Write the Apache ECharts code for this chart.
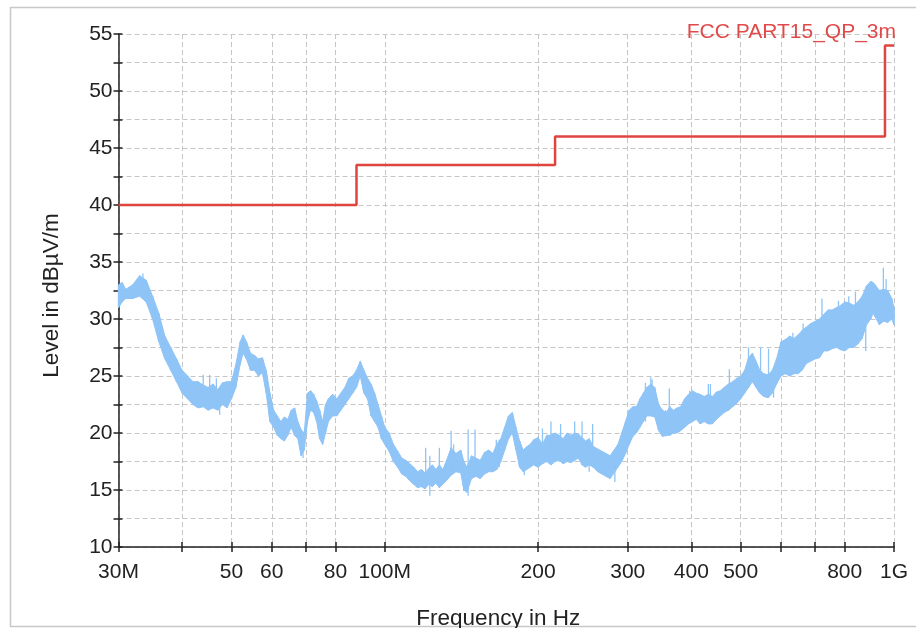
<!DOCTYPE html>
<html><head><meta charset="utf-8">
<script src="https://cdn.jsdelivr.net/npm/echarts@6/dist/echarts.min.js"></script>
<style>html,body{margin:0;padding:0;background:#fff}#c{width:916px;height:628px}</style>
</head><body><div id="c"></div>
<script>
// Measured trace: frequency (MHz) with low / high envelope of the noisy level (dBµV/m)
const freqMHz = [30,30.5,31,32,33,34,35,36,37,38,39,40,41,42,43,44,45,46,47,48,49,50,51,52,52.7,53.5,54.5,55.5,56.5,57.5,58.5,59.5,60.5,61.5,62.5,63.5,64.5,65.5,66.5,67.5,68.5,69.5,70.5,71.5,72.5,73.5,74.5,75.5,76.5,77.5,79,80.5,82,83.5,85,86.5,88,89.5,91,92.5,94,95.5,97,98.5,100,102,104,106,108,110,112,114,116,118,120,122,124,126,128,130,132,135,138,141,143,145,148,151,154,157,160,163,166,169,172,175,178,181,184,187,190,193,196,200,204,208,212,216,220,224,228,232,236,240,244,248,252,257,262,267,272,277,282,287,292,297,302,307,312,317,322,327,333,339,345,351,357,363,369,375,381,388,395,402,409,416,424,432,440,448,456,464,473,482,491,500,509,518,527,536,545,555,566,577,588,600,612,624,636,648,660,673,686,700,714,728,742,756,771,786,801,817,833,849,866,883,900,910,918,936,954,972,990,1000];
const levelLow = [31,31.5,31.8,31.8,32,31.5,30,28,26.5,25.5,24.5,23.5,23,22.5,22.2,22.3,22,22.2,22,22.5,22.2,23,24,26,27,26.5,25.5,25.5,25,25.3,23.5,21,20.5,19.8,19.5,19.3,19.8,20.5,19.8,19.5,18,18.5,21,22,21.8,21,19.5,19,20,21,21.5,21.5,22,22.5,23,23.5,24,25,23.5,23,21.5,21,20.5,19.5,19,18.4,17.5,17,16.4,16.2,15.8,15.5,15.2,15.3,15.1,15.5,15.3,15.6,15.2,15.5,15.8,16.3,16.6,16.5,15,14.8,16,16.2,16,16.4,16.6,16.6,16.8,17.5,18.5,19.5,20,18.5,17,16.6,16.8,17,17.2,17,17.3,17.5,17.2,17.5,17.6,17.3,17.5,17.4,17.6,17.8,17.2,17,17.2,17,16.6,16.4,16.2,16,16.5,17,17.5,18.2,19,19.7,20,20.5,21,21.5,21.5,21.4,20.2,19.7,19.8,19.8,20,20,20.2,20.5,20.8,21,21.2,20.8,21,20.8,20.8,21.2,21.5,21.8,22,22.3,22.6,23,23.5,24,24.5,24,23.5,23.2,23.1,23.5,24.3,25,25.2,25,25.2,25.2,25.5,26.1,26.3,26.5,26.6,27.2,27.2,27.4,27.5,27.3,27.2,27.5,27.5,27.8,28.3,29.5,30,30.5,30.2,29.5,29.8,29.7,30,29.5];
const levelHigh = [33,33.2,32.6,33,33.8,33.4,32,30.5,28.5,27.5,26.5,25.5,25,24.5,24.5,24.2,24,24.3,23.8,24.4,24.5,24.5,26,28,28.6,28,27,26.8,26.5,26.6,25.5,23.5,22,21.5,21,21.4,21.2,22,22.2,21,20.3,20,23.5,23.7,23.4,22.8,22,21,22.5,23,23.4,23,23.5,24,24.8,25,25.5,26.3,25.5,24.8,24.3,23.5,22.5,21.5,20.5,20,19,18.4,17.8,17.6,17.3,17,16.6,16.8,16.5,16.9,17.2,16.8,17.2,16.8,17.5,18.7,18.2,18.5,17.5,17,18,17.8,17.6,18.3,18.5,18.2,19,19.5,20.5,21.5,21.8,20.5,19.3,18.5,18.8,19,19.4,19.6,19,19.8,19.8,20,19.8,19.5,20,19.8,20,19.9,19.6,19.3,19.5,18.8,18.6,18.4,18.2,18,18.5,19,20,21,22,22.3,22.3,23,23.5,24,24.3,24,22.5,22,21.8,22.3,22,22.2,22.3,23,23.4,23.7,23.5,23.4,23.2,23.4,23.2,23.6,23.7,24,24.3,24.5,24.8,25,25.5,26.6,27,26.3,25.5,25.2,25.1,25.5,26.5,28,28.2,28.5,28.3,28.6,29,29.3,29.6,29.8,30,30.4,30.8,30.8,31,31.2,31.5,31.4,31.2,31.5,32,32.9,33.3,33.2,33,32.5,32.6,32.5,31.8,31];
// Isolated narrow spikes: frequency (MHz), foot and tip level (dBµV/m)
const spikeFreqMHz = [33.5,44,45.3,46.7,47.4,69.1,120.3,122.6,128,135,136.5,145.8,150.4,165.6,167.8,188,204,212,221.5,236,244,252,256,283,325,333,335,356,362,397,432,436,475,518,547,567,580,633,663,722,778,815,840,880,953,965];
const spikeFoot   = [32.5,23,23,22.5,21.6,17.8,16,14.5,15.5,16.5,16.5,14.5,16.5,17,17,16.3,17.5,17.5,17.8,17.8,17.5,16.6,17,15.7,21,21.5,21.5,19.7,20,21,21,21,22,24,23.5,23.1,23.1,25.2,26,27,27.5,27.5,27.8,27.2,30,30];
const spikeTip    = [34,25.1,25.1,24.8,23.5,20,18.7,18,18.7,20.2,19,20.3,20.3,19.4,19.4,18.5,20.4,21,20.8,21,21,19.5,20.8,18,24.4,24.9,24.7,22,23.9,23.7,24.3,24.3,25.6,27.5,27.5,27.4,25,28.8,29.6,31.8,31.6,32,32.4,31.8,34.5,33.5];
// Limit line
const limitName = 'FCC PART15_QP_3m';
const limitFreqMHz = [30, 88, 216, 960, 1000];
const limitLevel = [40, 43.5, 46, 54, 54];
// Axis ticks
const xTickFreqs = [30,40,50,60,70,80,100,200,300,400,500,600,700,800,1000];
const xLabelFreqs = [30,50,60,80,100,200,300,400,500,800,1000];
const xLabelTexts = ['30M','50','60','80','100M','200','300','400','500','800','1G'];
const yMin = 10, yMax = 55, yStep = 2.5, yLabelStep = 5;
const xName = 'Frequency in Hz', yName = 'Level in dBµV/m';

const lg = Math.log10;
const traceData = [];
freqMHz.forEach((f, i) => { traceData.push([lg(f), levelLow[i]]); traceData.push([lg(f), levelHigh[i]]); });
const bandData = freqMHz.map((f, i) => [lg(f), levelLow[i], levelHigh[i]]);
const spikeData = spikeFreqMHz.map((f, i) => [lg(f), spikeFoot[i], spikeTip[i]]);
const limitData = limitFreqMHz.map((f, i) => [lg(f), limitLevel[i]]);
const labelMap = {};
xLabelFreqs.forEach((f, i) => { labelMap[f] = xLabelTexts[i]; });

const FONT = '"Liberation Sans", Arial, sans-serif';
const AX = '#222';
const GRIDC = '#c6c6c6';
const BLUE = '#8fc4f7';
const xMinL = lg(xTickFreqs[0]), xMaxL = lg(xTickFreqs[xTickFreqs.length - 1]);

function renderBand(params, api) {
  if (params.dataIndex !== 0) return null;
  const pts = [];
  for (let i = 0; i < bandData.length; i++) pts.push(api.coord([bandData[i][0], bandData[i][1]]));
  for (let i = bandData.length - 1; i >= 0; i--) pts.push(api.coord([bandData[i][0], bandData[i][2]]));
  return {type: 'polygon', shape: {points: pts}, style: {fill: BLUE, stroke: BLUE, lineWidth: 1}, silent: true};
}
function renderSpike(params, api) {
  const a = api.coord([api.value(0), api.value(1)]);
  const b = api.coord([api.value(0), api.value(2)]);
  return {type: 'line', shape: {x1: a[0], y1: a[1], x2: b[0], y2: b[1]}, style: {stroke: BLUE, lineWidth: 1.3}, silent: true};
}

const chart = echarts.init(document.getElementById('c'), null, {renderer: 'canvas'});
chart.setOption({
  animation: false,
  backgroundColor: '#fff',
  grid: {left: 118.5, right: 22, top: 34, bottom: 81, containLabel: false, outerBoundsMode: 'none'},
  xAxis: [{
    type: 'value', min: xMinL, max: xMaxL,
    axisLine: {onZero: false, lineStyle: {color: AX, width: 1.5}},
    axisTick: {customValues: xTickFreqs.map(lg), length: 5, lineStyle: {color: AX, width: 1.5}},
    axisLabel: {customValues: xLabelFreqs.map(lg), formatter: v => labelMap[Math.round(Math.pow(10, v))] || '',
      fontSize: 21, color: AX, margin: 15, fontFamily: FONT},
    splitLine: {show: true, lineStyle: {type: [5, 3], color: GRIDC, width: 1}},
    name: xName, nameLocation: 'middle', nameGap: 60,
    nameTextStyle: {fontSize: 22.5, color: AX, fontFamily: FONT, padding: [0, 16, 0, 0]}
  }, {
    type: 'value', min: xMinL, max: xMaxL, position: 'bottom',
    axisLine: {show: false, onZero: false},
    axisTick: {inside: true, customValues: xTickFreqs.map(lg), length: 5, lineStyle: {color: AX, width: 1.5}},
    axisLabel: {show: false}, splitLine: {show: false}
  }],
  yAxis: [{
    type: 'value', min: yMin, max: yMax, interval: yStep,
    axisLine: {show: true, onZero: false, lineStyle: {color: AX, width: 1.5}},
    axisTick: {show: true, length: 5, lineStyle: {color: AX, width: 1.5}},
    axisLabel: {formatter: v => (Math.abs(v % yLabelStep) < 1e-9 ? String(v) : ''), fontSize: 21, color: AX, margin: 6, fontFamily: FONT},
    splitLine: {show: true, lineStyle: {type: [5, 3], color: GRIDC, width: 1}},
    name: yName, nameLocation: 'middle', nameGap: 55,
    nameTextStyle: {fontSize: 22.5, color: AX, fontFamily: FONT, padding: [0, 10, 0, 0]}
  }, {
    type: 'value', min: yMin, max: yMax, interval: yStep, position: 'left',
    axisLine: {show: false, onZero: false},
    axisTick: {show: true, inside: true, length: 4, lineStyle: {color: AX, width: 1.5}},
    axisLabel: {show: false}, splitLine: {show: false}
  }],
  graphic: [
    {type: 'rect', silent: true, z: -1, shape: {x: 10.5, y: 7.5, width: 920, height: 619},
      style: {fill: 'none', stroke: '#c8c8c8', lineWidth: 1.5}},
    {type: 'text', silent: true, z: 10, x: 896, y: 32,
      style: {text: limitName, align: 'right', verticalAlign: 'middle', fill: '#e04a4a', font: '21px ' + FONT}}
  ],
  series: [{
    type: 'custom', name: 'band', data: bandData, renderItem: renderBand,
    encode: {x: 0, y: [1, 2]}, z: 1, silent: true
  }, {
    type: 'custom', name: 'spikes', data: spikeData, renderItem: renderSpike,
    encode: {x: 0, y: [1, 2]}, z: 1, silent: true
  }, {
    type: 'line', name: 'Trace', data: traceData,
    showSymbol: false, symbol: 'none', lineStyle: {color: BLUE, width: 1.4}, z: 2
  }, {
    type: 'line', name: limitName, data: limitData, step: 'end',
    showSymbol: false, symbol: 'none', lineStyle: {color: '#e0443f', width: 2.5}, z: 3
  }]
});
</script></body></html>
